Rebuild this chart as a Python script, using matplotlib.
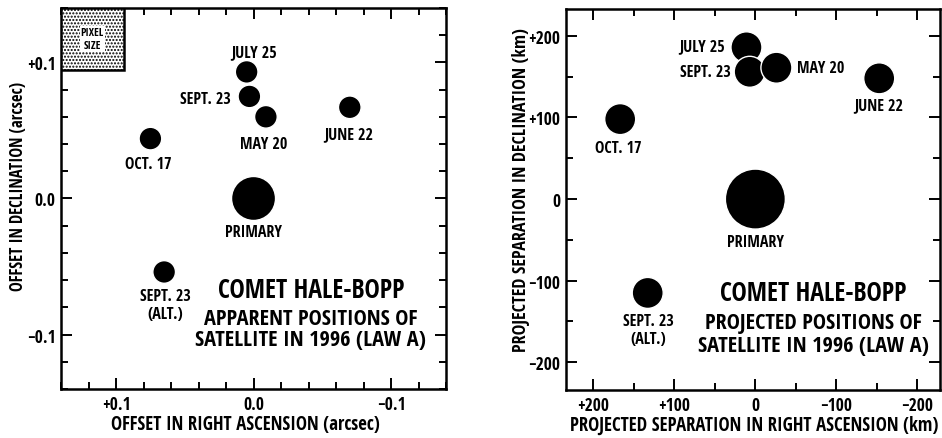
import matplotlib.pyplot as plt
from matplotlib.patches import Rectangle
from matplotlib.ticker import MultipleLocator, FixedLocator

plt.rcParams['font.family'] = ['Open Sans Condensed', 'DejaVu Sans']
plt.rcParams['font.weight'] = 'bold'
plt.rcParams['axes.labelweight'] = 'bold'

labels = ['JULY 25', 'SEPT. 23', 'MAY 20', 'JUNE 22', 'OCT. 17', 'PRIMARY', 'SEPT. 23\n(ALT.)']

# apparent offsets (arcsec)
ra_arcsec = [0.005, 0.003, -0.009, -0.070, 0.075, 0.0, 0.065]
dec_arcsec = [0.093, 0.075, 0.060, 0.067, 0.044, 0.0, -0.054]

# projected separations (km)
ra_km = [11, 7, -26, -153, 167, 0, 133]
dec_km = [186, 156, 161, 148, 98, 0, -115]

pixel_size = 0.0455  # arcsec

left_ticks = [0.1, 0.0, -0.1]
left_ticklabels = ['+0.1', '0.0', '\u22120.1']
right_ticks = [200, 100, 0, -100, -200]
right_ticklabels = ['+200', '+100', '0', '\u2212100', '\u2212200']

# label offsets in pixels (dx, dy, ha)
offs_l = [(7, 20, 'center'), (-19, -3, 'right'), (-2, -27, 'center'), (-1, -27, 'center'),
          (-2, -25, 'center'), (0, -34, 'center'), (1, -33, 'center')]
offs_r = [(-22, 1, 'right'), (-19, 0, 'right'), (21, 0, 'left'), (-1, -27, 'center'),
          (-2, -29, 'center'), (0, -43, 'center'), (1, -37, 'center')]

fig = plt.figure(figsize=(9.42, 4.39), dpi=100)
axl = fig.add_axes([0.0648, 0.1116, 0.4087, 0.868])
axr = fig.add_axes([0.6008, 0.1093, 0.3970, 0.868])


def style(ax, minor):
    for s in ax.spines.values():
        s.set_linewidth(1.8)
    ax.xaxis.set_minor_locator(MultipleLocator(minor))
    ax.yaxis.set_minor_locator(MultipleLocator(minor))
    ax.tick_params(which='both', direction='in', top=True, right=True, width=1.4,
                   labelsize=12.5, pad=4)
    ax.tick_params(which='major', length=8)
    ax.tick_params(which='minor', length=5)


def draw(ax, xs, ys, sat, prim, offs):
    sizes = [prim if lab == 'PRIMARY' else sat for lab in labels]
    ax.scatter(xs, ys, s=sizes, c='black', edgecolors='white', linewidths=1, zorder=3)
    for x, y, lab, (dx, dy, ha) in zip(xs, ys, labels, offs):
        ax.annotate(lab, (x, y), xytext=(dx, dy), textcoords='offset pixels',
                    ha=ha, va='center', fontsize=11.5, linespacing=1.15)


# left panel
draw(axl, ra_arcsec, dec_arcsec, 266, 1004, offs_l)
axl.set_xlim(0.14, -0.14)
axl.set_ylim(-0.14, 0.14)
axl.xaxis.set_major_locator(FixedLocator(left_ticks))
axl.yaxis.set_major_locator(FixedLocator(left_ticks))
axl.set_xticklabels(left_ticklabels)
axl.set_yticklabels(left_ticklabels)
style(axl, 0.02)
axl.set_xlabel('OFFSET IN RIGHT ASCENSION (arcsec)', fontsize=13.5, va='center')
axl.set_ylabel('OFFSET IN DECLINATION (arcsec)', fontsize=12, va='center')
axl.xaxis.set_label_coords(0.48, -0.092)
axl.yaxis.set_label_coords(-0.113, 0.533)
axl.add_patch(Rectangle((0.14 - pixel_size, 0.14 - pixel_size), pixel_size, pixel_size,
                        facecolor='white', edgecolor='black', hatch='.....', lw=1.8, zorder=4))
axl.text(0.14 - pixel_size / 2, 0.14 - pixel_size / 2, 'PIXEL\nSIZE', ha='center', va='center',
         fontsize=8, zorder=5, linespacing=1.25,
         bbox=dict(facecolor='white', edgecolor='none', pad=0.5))
axl.text(0.649, 0.26, 'COMET HALE-BOPP', transform=axl.transAxes, ha='center', va='center', fontsize=18.5)
axl.text(0.649, 0.186, 'APPARENT POSITIONS OF', transform=axl.transAxes, ha='center', va='center', fontsize=16)
axl.text(0.649, 0.131, 'SATELLITE IN 1996 (LAW A)', transform=axl.transAxes, ha='center', va='center', fontsize=16)

# right panel
draw(axr, ra_km, dec_km, 498, 1866, offs_r)
axr.set_xlim(234, -228)
axr.set_ylim(-234, 233)
axr.xaxis.set_major_locator(FixedLocator(right_ticks))
axr.yaxis.set_major_locator(FixedLocator(right_ticks))
axr.set_xticklabels(right_ticklabels)
axr.set_yticklabels(right_ticklabels)
style(axr, 50)
axr.set_xlabel('PROJECTED SEPARATION IN RIGHT ASCENSION (km)', fontsize=13.5, va='center')
axr.set_ylabel('PROJECTED SEPARATION IN DECLINATION (km)', fontsize=13, va='center')
axr.xaxis.set_label_coords(0.503, -0.092)
axr.yaxis.set_label_coords(-0.12, 0.528)
axr.text(0.662, 0.255, 'COMET HALE-BOPP', transform=axr.transAxes, ha='center', va='center', fontsize=18.5)
axr.text(0.662, 0.178, 'PROJECTED POSITIONS OF', transform=axr.transAxes, ha='center', va='center', fontsize=16)
axr.text(0.662, 0.118, 'SATELLITE IN 1996 (LAW A)', transform=axr.transAxes, ha='center', va='center', fontsize=16)

fig.savefig('out.png', dpi=100)
